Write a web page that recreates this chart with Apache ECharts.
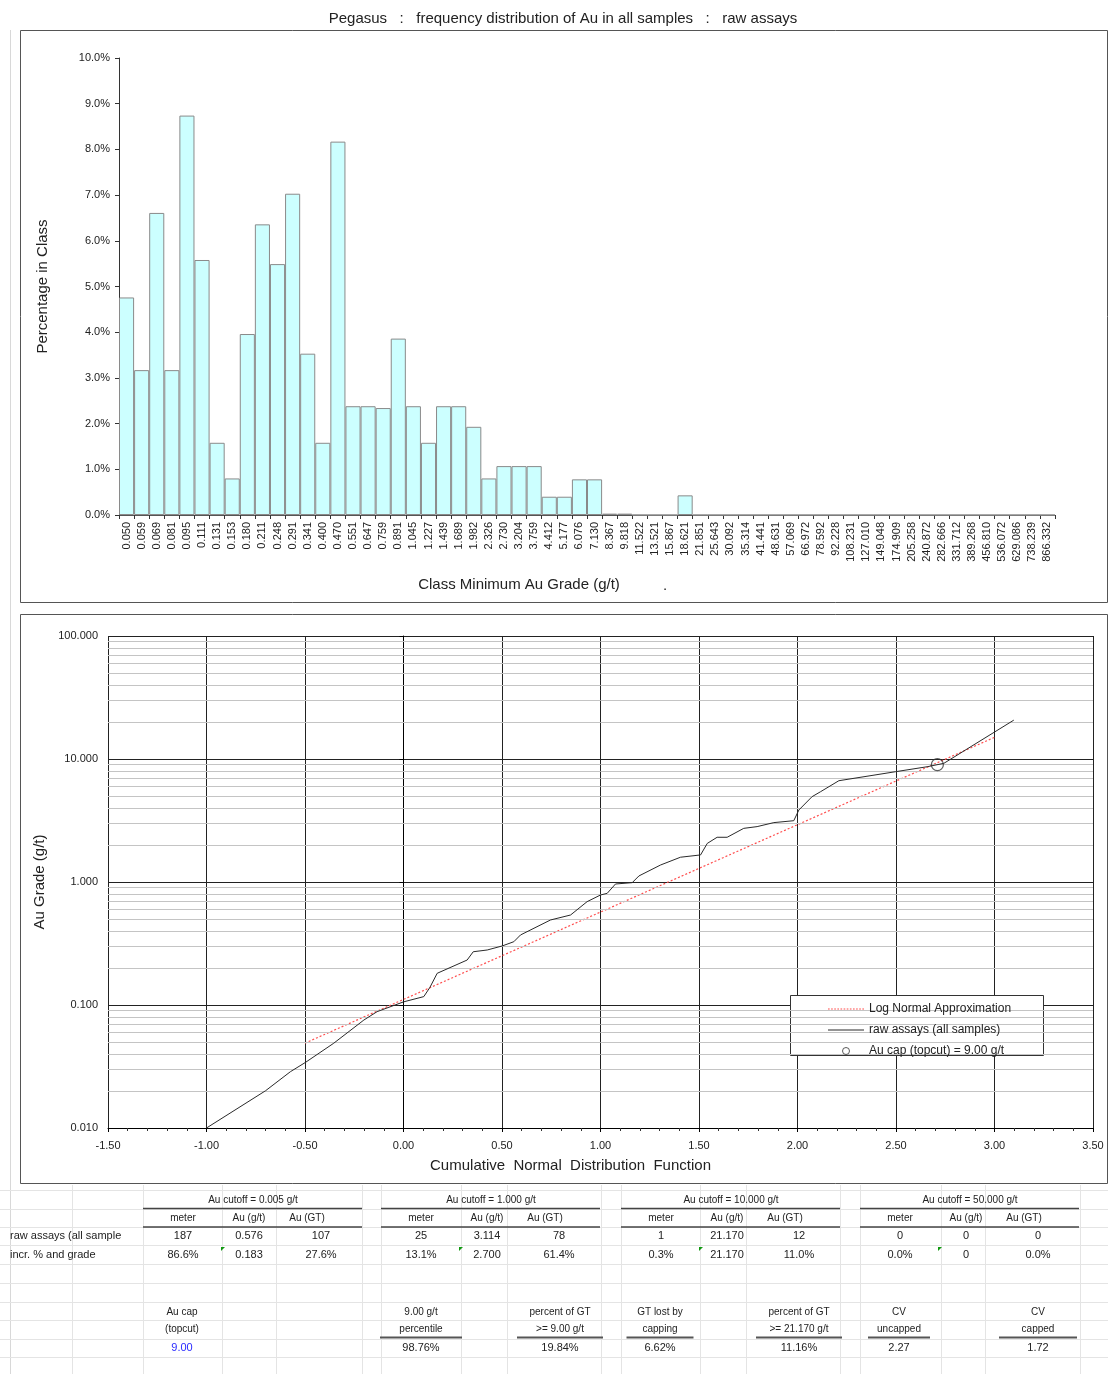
<!DOCTYPE html>
<html><head><meta charset="utf-8">
<script src="https://cdn.jsdelivr.net/npm/echarts@6/dist/echarts.min.js"></script>
<style>html,body{margin:0;padding:0;background:#fff}#c{width:1108px;height:1374px}</style>
</head><body><div id="c"></div>
<script>
// ---------- DATA ----------
const titleText = 'Pegasus   :   frequency distribution of Au in all samples   :   raw assays';
const classMins = ['0.050','0.059','0.069','0.081','0.095','0.111','0.131','0.153','0.180','0.211','0.248','0.291','0.341','0.400','0.470','0.551','0.647','0.759','0.891','1.045','1.227','1.439','1.689','1.982','2.326','2.730','3.204','3.759','4.412','5.177','6.076','7.130','8.367','9.818','11.522','13.521','15.867','18.621','21.851','25.643','30.092','35.314','41.441','48.631','57.069','66.972','78.592','92.228','108.231','127.010','149.048','174.909','205.258','240.872','282.666','331.712','389.268','456.810','536.072','629.086','738.239','866.332'];
const classPct = [4.76,3.17,6.61,3.17,8.74,5.58,1.58,0.80,3.96,6.36,5.49,7.03,3.53,1.58,8.17,2.38,2.38,2.34,3.86,2.38,1.58,2.38,2.38,1.93,0.80,1.07,1.07,1.07,0.40,0.40,0.78,0.78,0.03,0.03,0,0,0,0.43,0,0,0,0,0,0,0,0,0,0,0,0,0,0,0,0,0,0,0,0,0,0,0,0];

const rawAssaysCurve = [[-1.00,0.0100],[-0.70,0.0201],[-0.574,0.0287],[-0.497,0.0342],[-0.354,0.0489],[-0.201,0.0755],[-0.134,0.0883],[0.0,0.106],[0.103,0.117],[0.134,0.139],[0.171,0.181],[0.323,0.232],[0.354,0.271],[0.425,0.280],[0.501,0.302],[0.560,0.327],[0.594,0.371],[0.746,0.491],[0.848,0.539],[0.932,0.692],[1.000,0.784],[1.034,0.809],[1.076,0.963],[1.161,0.988],[1.195,1.12],[1.305,1.375],[1.406,1.59],[1.508,1.66],[1.542,2.06],[1.592,2.31],[1.643,2.31],[1.727,2.73],[1.795,2.82],[1.880,3.04],[1.981,3.15],[2.007,3.85],[2.074,4.94],[2.117,5.42],[2.210,6.66],[2.497,7.88],[2.658,8.65],[2.743,9.22],[3.098,20.7]];
const logNormalLine = [[-0.5,0.049],[3.0,15.0]];
const auCapPoint = [[2.71,9.0]];
const legendNames = ['Log Normal Approximation','raw assays (all samples)','Au cap (topcut) = 9.00 g/t'];

const cutoffHeaders = ['Au cutoff = 0.005 g/t','Au cutoff = 1.000 g/t','Au cutoff = 10.000 g/t','Au cutoff = 50.000 g/t'];
const colHeaders = ['meter','Au (g/t)','Au (GT)'];
const rowLabels = ['raw assays (all sample','incr. % and grade'];
const rawAssaysRow = [['187','0.576','107'],['25','3.114','78'],['1','21.170','12'],['0','0','0']];
const incrGradeRow = [['86.6%','0.183','27.6%'],['13.1%','2.700','61.4%'],['0.3%','21.170','11.0%'],['0.0%','0','0.0%']];
const capLabels = [['Au cap','(topcut)'],['9.00 g/t','percentile'],['percent of GT','>= 9.00 g/t'],['GT lost by','capping'],['percent of GT','>= 21.170 g/t'],['CV','uncapped'],['CV','capped']];
const capValues = ['9.00','98.76%','19.84%','6.62%','11.16%','2.27','1.72'];

// ---------- LAYOUT ----------
const FF = '"Liberation Sans", Arial, sans-serif';
const chart = echarts.init(document.getElementById('c'), null, {renderer:'canvas'});
const g = [];
const txt = (x,y,t,o={}) => g.push({type:'text', x, y, z:10, style:Object.assign({text:t, fontFamily:FF, fontSize:11, fill:'#222', align:'center', verticalAlign:'middle'}, o)});
const ln = (x1,y1,x2,y2,stroke,w) => g.push({type:'line', z:5, shape:{x1,y1,x2,y2}, style:{stroke, lineWidth:w}});

// faint spreadsheet gridlines
ln(10.5,30,10.5,1374,'#d8d8d8',1);
[1190,1209,1227,1245,1264,1283,1302,1320,1339,1357].forEach(y=>ln(0,y+0.5,1108,y+0.5,'#e4e4e4',1));
[72,143,222,276,362,381,461,507,601,621,700,746,840,860,941,985,1080].forEach(x=>ln(x+0.5,1185,x+0.5,1374,'#e4e4e4',1));
// chart frames
g.push({type:'rect', z:1, shape:{x:20.5,y:30.5,width:1087,height:572}, style:{fill:'none', stroke:'#555', lineWidth:1}});
g.push({type:'rect', z:1, shape:{x:20.5,y:614.5,width:1087,height:569}, style:{fill:'none', stroke:'#555', lineWidth:1}});
// title
txt(563,19,titleText,{fontSize:15});
txt(519,585,'Class Minimum Au Grade (g/t)',{fontSize:15});
txt(665,586,'.',{fontSize:15});
// legend box
g.push({type:'rect', z:3, shape:{x:790.5,y:995.5,width:253,height:60}, style:{fill:'#fff', stroke:'#333', lineWidth:1}});

// table
const gx = [143,381,621,860];
cutoffHeaders.forEach((h,i)=>{
  txt(gx[i]+110,1200,h,{fontSize:10});
  ln(gx[i],1208.5,gx[i]+219,1208.5,'#444',1.5);
  txt(gx[i]+40,1218,colHeaders[0],{fontSize:10});
  txt(gx[i]+106,1218,colHeaders[1],{fontSize:10});
  txt(gx[i]+164,1218,colHeaders[2],{fontSize:10});
  ln(gx[i],1227,gx[i]+219,1227,'#444',1.5);
  txt(gx[i]+40,1236,rawAssaysRow[i][0]);
  txt(gx[i]+106,1236,rawAssaysRow[i][1]);
  txt(gx[i]+178,1236,rawAssaysRow[i][2]);
  txt(gx[i]+40,1255,incrGradeRow[i][0]);
  txt(gx[i]+106,1255,incrGradeRow[i][1]);
  txt(gx[i]+178,1255,incrGradeRow[i][2]);
  g.push({type:'polygon', z:6, shape:{points:[[gx[i]+78,1247],[gx[i]+82,1247],[gx[i]+78,1251]]}, style:{fill:'#119911'}});
});
txt(10,1236,rowLabels[0],{align:'left'});
txt(10,1255,rowLabels[1],{align:'left'});
const cx = [182,421,560,660,799,899,1038];
const ulw = [0,82,86,67,86,62,78];
capLabels.forEach((l,i)=>{
  txt(cx[i],1312,l[0],{fontSize:10});
  txt(cx[i],1329,l[1],{fontSize:10});
  if (ulw[i]) ln(cx[i]-ulw[i]/2,1337.5,cx[i]+ulw[i]/2,1337.5,'#555',2);
  txt(cx[i],1348,capValues[i],{fill: i===0 ? '#2b2bff' : '#222'});
});

// minor log gridlines (2..9 per decade)
const minorVals = [];
[0.01,0.1,1,10].forEach(d=>{for(let m=2;m<=9;m++) minorVals.push({yAxis:+(d*m).toPrecision(3)});});

// legend icons (line samples without symbols)
let dots = '';
for (let x=0;x<36;x+=3) dots += 'M'+x+',0h1.6v1.2h-1.6z';
const dottedIcon = 'path://' + dots;
const solidIcon = 'path://M0,0h36v1.1h-36z';

const option = {
  backgroundColor:'#fff',
  animation:false,
  textStyle:{fontFamily:FF},
  grid:[
    {left:119, top:58, width:936, height:457},
    {left:108, top:636, width:985, height:492}
  ],
  xAxis:[
    {gridIndex:0, type:'category', data:classMins, boundaryGap:true,
     axisLine:{lineStyle:{color:'#555'}}, axisTick:{show:true, interval:0, length:4, lineStyle:{color:'#333'}},
     axisLabel:{interval:0, rotate:90, fontSize:11, color:'#222', margin:7, fontFamily:FF}},
    {gridIndex:1, type:'value', min:-1.5, max:3.5, interval:0.5,
     axisLine:{onZero:false, lineStyle:{color:'#000'}}, axisTick:{show:true, length:4, lineStyle:{color:'#000'}},
     minorTick:{show:true, splitNumber:5, length:3, lineStyle:{color:'#333'}},
     splitLine:{show:true, lineStyle:{color:'#222', width:1}},
     axisLabel:{fontSize:11, color:'#222', margin:12, formatter:v=>v.toFixed(2), fontFamily:FF},
     name:'Cumulative  Normal  Distribution  Function', nameLocation:'middle', nameGap:30,
     nameTextStyle:{fontSize:15, color:'#222', fontFamily:FF, padding:[0,60,0,0]}}
  ],
  yAxis:[
    {gridIndex:0, type:'value', min:0, max:10, interval:1,
     axisLine:{show:true, lineStyle:{color:'#333'}}, axisTick:{show:true, length:4, lineStyle:{color:'#333'}},
     splitLine:{show:false},
     axisLabel:{fontSize:11, color:'#222', margin:9, formatter:v=>v.toFixed(1)+'%', fontFamily:FF},
     name:'Percentage in Class', nameLocation:'middle', nameGap:69, nameRotate:90,
     nameTextStyle:{fontSize:15, color:'#222', fontFamily:FF}},
    {gridIndex:1, type:'log', logBase:10, min:0.01, max:100,
     axisLine:{show:true, lineStyle:{color:'#000'}}, axisTick:{show:true, length:4, lineStyle:{color:'#000'}},
     splitLine:{show:true, lineStyle:{color:'#222', width:1}},
     axisLabel:{fontSize:11, color:'#222', margin:10, formatter:v=>(+v).toFixed(3), fontFamily:FF},
     name:'Au Grade (g/t)', nameLocation:'middle', nameGap:59, nameRotate:90,
     nameTextStyle:{fontSize:15, color:'#222', fontFamily:FF}}
  ],
  legend:{orient:'vertical', left:823, top:998, itemWidth:36, itemHeight:7, itemGap:9, z:20,
    selectedMode:false, textStyle:{fontSize:12, lineHeight:12, color:'#222', fontFamily:FF},
    data:[
      {name:legendNames[0], icon:dottedIcon, itemStyle:{color:'#ff4d4d'}},
      {name:legendNames[1], icon:solidIcon, itemStyle:{color:'#2a2a2a'}},
      {name:legendNames[2], icon:'circle', itemStyle:{color:'#fff', borderColor:'#333', borderWidth:1}}
    ]},
  series:[
    {name:'histogram', type:'bar', xAxisIndex:0, yAxisIndex:0, data:classPct, barCategoryGap:'0%',
     itemStyle:{color:'#CCFFFF', borderColor:'#8a8a8a', borderWidth:1}},
    {name:'minor', type:'line', xAxisIndex:1, yAxisIndex:1, data:[], silent:true,
     markLine:{silent:true, symbol:'none', label:{show:false}, animation:false,
       lineStyle:{color:'#c4c4c4', type:'solid', width:1}, data:minorVals}},
    {name:legendNames[0], type:'line', xAxisIndex:1, yAxisIndex:1, data:logNormalLine, symbol:'none',
     lineStyle:{color:'#ff4d4d', width:1.2, type:[2,2]}, itemStyle:{color:'#ff4d4d'}, z:4},
    {name:legendNames[1], type:'line', xAxisIndex:1, yAxisIndex:1, data:rawAssaysCurve, symbol:'none',
     lineStyle:{color:'#2a2a2a', width:1}, itemStyle:{color:'#2a2a2a'}, z:5},
    {name:legendNames[2], type:'scatter', xAxisIndex:1, yAxisIndex:1, data:auCapPoint, symbol:'circle', symbolSize:12,
     itemStyle:{color:'rgba(255,255,255,0)', borderColor:'#333', borderWidth:1.2}, z:6}
  ],
  graphic:g
};
chart.setOption(option);
</script></body></html>
